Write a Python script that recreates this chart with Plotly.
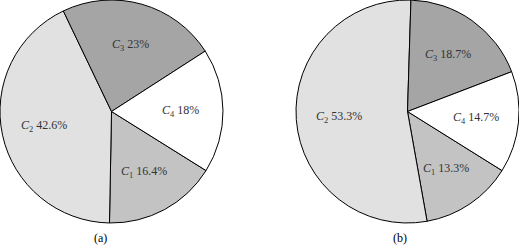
import math
import plotly.graph_objects as go

categories = ["C1", "C2", "C3", "C4"]
values_a = [16.4, 42.6, 23, 18]
values_b = [13.3, 53.3, 18.7, 14.7]
panel_labels = ["(a)", "(b)"]
colors = ["#c3c3c3", "#e1e1e1", "#a5a5a5", "#ffffff"]

FONT = "Liberation Serif, Times New Roman, serif"
ROT = 122  # start angle of first slice, clockwise from 12 o'clock
LABEL_R = 0.62  # label distance as fraction of the radius


def label_texts(vals):
    return [f"<i>C</i><sub>{c[1:]}</sub> {v:g}%" for c, v in zip(categories, vals)]


W, H = 519, 247
fig = go.Figure()
domains = [[0, 223], [296, 519]]
ydom = [24, 247]
for vals, dom in zip([values_a, values_b], domains):
    fig.add_trace(go.Pie(
        labels=categories, values=vals, sort=False, direction="clockwise",
        rotation=ROT, textinfo="none",
        marker=dict(colors=colors, line=dict(color="#000000", width=1)),
        domain=dict(x=[dom[0] / W, dom[1] / W], y=[ydom[0] / H, 1]),
        showlegend=False, hoverinfo="none",
    ))
    # label positions derived from slice angles
    cx = (dom[0] + dom[1]) / 2
    cy = (ydom[0] + ydom[1]) / 2
    rad = min(dom[1] - dom[0], ydom[1] - ydom[0]) / 2
    total = sum(vals)
    start = ROT
    for txt, v in zip(label_texts(vals), vals):
        span = 360 * v / total
        mid = math.radians(start + span / 2)
        start += span
        px = cx + LABEL_R * rad * math.sin(mid)
        py = cy + LABEL_R * rad * math.cos(mid)
        fig.add_annotation(text=txt, x=px / W, y=py / H, xref="paper", yref="paper",
                           showarrow=False, xanchor="center", yanchor="middle",
                           font=dict(family=FONT, size=12, color="#333333"))

for lab, xc in zip(panel_labels, [100 / W, 400 / W]):
    fig.add_annotation(text=lab, x=xc, y=9 / H, xref="paper", yref="paper",
                       showarrow=False, xanchor="center", yanchor="middle",
                       font=dict(family=FONT, size=12, color="#000000"))

fig.update_layout(width=W, height=H, margin=dict(l=0, r=0, t=0, b=0),
                  paper_bgcolor="white", plot_bgcolor="white")
fig.write_html("out.html")
